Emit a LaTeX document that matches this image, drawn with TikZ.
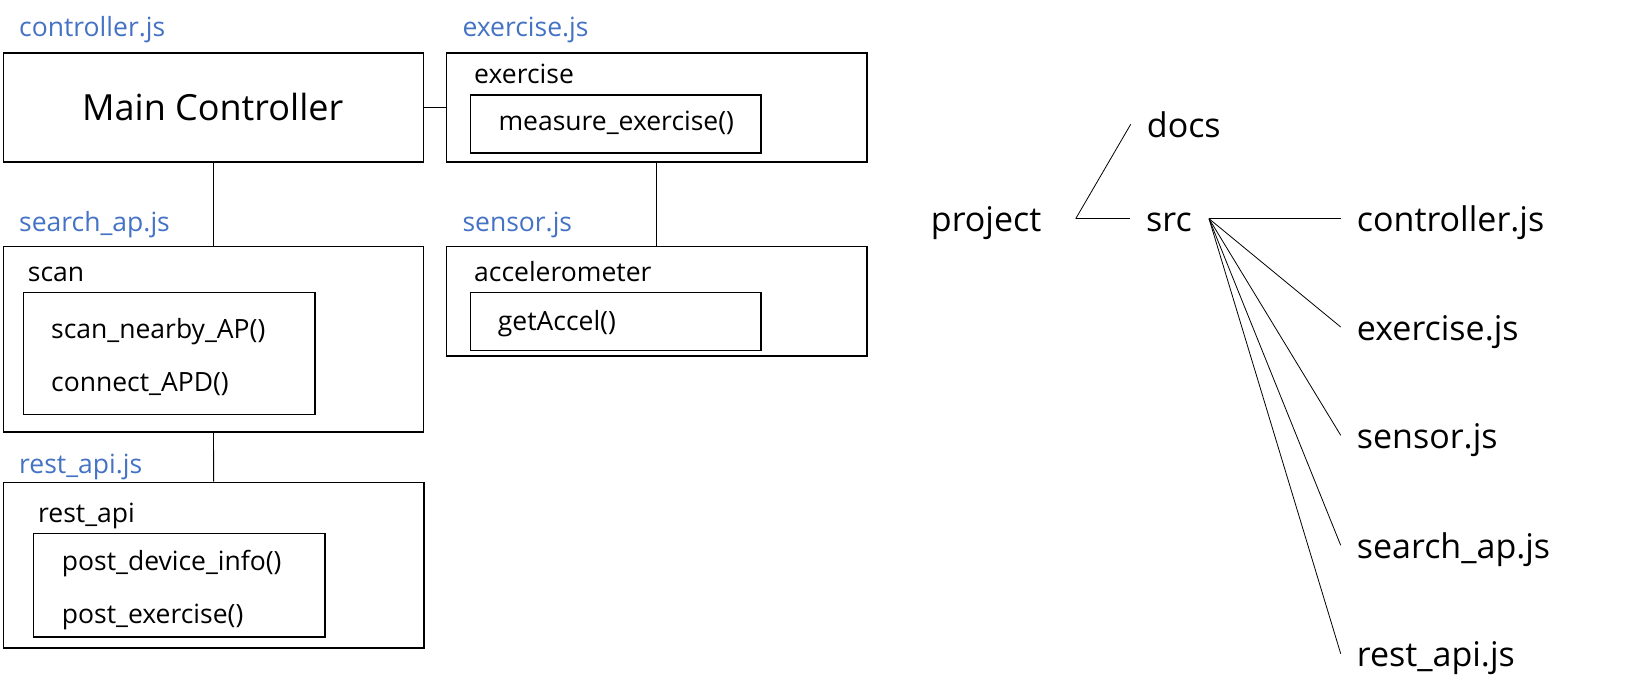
\documentclass[tikz,border=0pt]{standalone}
\usepackage{fontspec}
\setmainfont{Open Sans}
\definecolor{fileblue}{HTML}{4472C4}
\tikzset{
  box/.style={draw, line width=1.5pt, inner sep=0pt, anchor=north west},
  conn/.style={line width=0.8pt},
  filelabel/.style={anchor=base west, inner sep=0pt, text=fileblue, font=\fontsize{26.5}{30}\selectfont},
  body/.style={anchor=base west, inner sep=0pt, font=\fontsize{26.5}{30}\selectfont},
  tree/.style={anchor=base west, inner xsep=16pt, inner ysep=0pt, text height=26pt, text depth=0pt, font=\fontsize{34}{40}\selectfont},
}
\begin{document}
\begin{tikzpicture}[x=1pt,y=-1pt]
\useasboundingbox (0,0) rectangle (1625,699);
% file labels
\node[filelabel] (lctrl) at (19,36.7) {controller.js};
\node[filelabel] (lexer) at (462.3,36.7) {exercise.js};
\node[filelabel] (lsearch) at (19,231) {search\_ap.js};
\node[filelabel] (lsensor) at (462.3,231) {sensor.js};
\node[filelabel] (lrest) at (19,473) {rest\_api.js};
% outer boxes
\node[box, minimum width=420pt, minimum height=109pt] (main) at (2.7,52) {};
\node[box, minimum width=420.3pt, minimum height=109pt] (exer) at (445.7,52) {};
\node[box, minimum width=420.3pt, minimum height=109.3pt] (sensor) at (445.7,245.7) {};
\node[box, minimum width=420pt, minimum height=185.3pt] (search) at (2.7,245.7) {};
\node[box, minimum width=420.6pt, minimum height=165.6pt] (rest) at (2.7,481.7) {};
% inner boxes
\node[box, minimum width=290.6pt, minimum height=58pt] (measbox) at (469.7,94.3) {};
\node[box, minimum width=290.6pt, minimum height=58pt] (accelbox) at (469.7,291.7) {};
\node[box, minimum width=291.3pt, minimum height=122pt] (scanbox) at (22.7,291.7) {};
\node[box, minimum width=291.3pt, minimum height=103.3pt] (restbox) at (32.7,532.7) {};
% texts
\node[anchor=base, inner sep=0pt, font=\fontsize{36}{42}\selectfont] (maintxt) at (212.7,120.7) {Main Controller};
\node[body] (texer) at (474,83) {exercise};
\node[body] (tmeas) at (498.3,130.7) {measure\_exercise()};
\node[body] (taccel) at (474,281.7) {accelerometer};
\node[body] (tget) at (497.7,330) {getAccel()};
\node[body] (tscan) at (27.7,281.7) {scan};
\node[body] (tnear) at (51,338.3) {scan\_nearby\_AP()};
\node[body] (tconn) at (51,391.7) {connect\_APD()};
\node[body] (trestapi) at (38,522.7) {rest\_api};
\node[body] (tpdi) at (61.7,570) {post\_device\_info()};
\node[body] (tpex) at (61.7,623.3) {post\_exercise()};
% connectors
\draw[conn] (main) -- (exer);
\draw[conn] (main) -- (search);
\draw[conn] (search) -- (rest);
\draw[conn] (exer) -- (sensor);
% tree
\node[tree, inner xsep=0pt] (project) at (930.7,231.7) {project};
\node[tree] (docs) at (1130.7,137.3) {docs};
\node[tree] (src) at (1130,231.7) {src};
\node[tree] (fctrl) at (1340.7,231.7) {controller.js};
\node[tree] (fexer) at (1340.7,340) {exercise.js};
\node[tree] (fsensor) at (1340.7,448.3) {sensor.js};
\node[tree] (fsearch) at (1340.7,558.3) {search\_ap.js};
\node[tree] (frest) at (1340.7,666.7) {rest\_api.js};
\coordinate (pjR) at (1075.7,218.7);
\coordinate (fan) at (1209,218.7);
\draw[conn] (pjR) -- (docs.west);
\draw[conn] (pjR) -- (src.west);
\draw[conn] (fan) -- (fctrl.west);
\draw[conn] (fan) -- (fexer.west);
\draw[conn] (fan) -- (fsensor.west);
\draw[conn] (fan) -- (fsearch.west);
\draw[conn] (fan) -- (frest.west);
\end{tikzpicture}
\end{document}
